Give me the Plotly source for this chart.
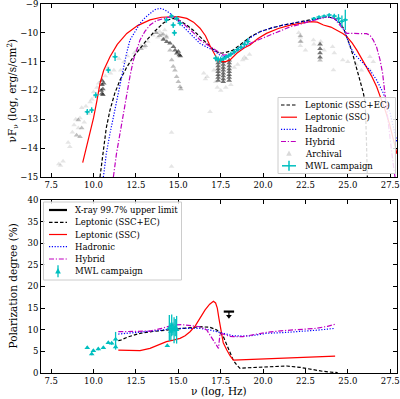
import plotly.graph_objects as go

# ---------------- data: SED (top panel) ----------------
ssc_ec_x = [10.38, 10.5, 10.58, 10.75, 10.97, 11.25, 11.56, 11.95, 12.35, 12.75,
            13.14, 13.6, 14.1, 14.4, 14.7, 15.1, 15.5, 15.9, 16.28, 16.7,
            17.1, 17.46, 17.8, 18.23, 18.8, 19.3, 19.82, 20.5, 21.2, 22.0,
            22.77, 23.3, 23.76, 24.2, 24.55, 24.75, 24.94, 25.13, 25.33, 25.52,
            25.72, 25.9, 26.0, 26.05, 26.1, 26.15]
ssc_ec_y = [-15.0, -14.5, -14.06, -13.3, -12.68, -12.1, -11.64, -11.2, -10.83, -10.52,
            -10.25, -9.95, -9.67, -9.55, -9.5, -9.58, -9.73, -9.92, -10.13, -10.38,
            -10.6, -10.71, -10.68, -10.6, -10.33, -10.12, -9.96, -9.83, -9.73, -9.63,
            -9.55, -9.5, -9.44, -9.5, -9.67, -9.85, -10.13, -10.45, -10.83, -11.22,
            -11.64, -12.05, -12.33, -12.8, -13.8, -15.0]

ssc_x = [9.36, 9.6, 9.79, 10.0, 10.2, 10.38, 10.6, 10.97, 11.4, 11.96,
         12.6, 13.33, 14.0, 14.5, 15.0, 15.5, 15.9, 16.28, 16.6, 16.87,
         17.1, 17.27, 17.45, 17.6, 17.8, 18.05, 18.45, 18.9, 19.23, 19.7,
         20.2, 20.9, 21.6, 22.2, 22.77, 23.2, 23.56, 24.0, 24.35, 24.7,
         24.94, 25.25, 25.53, 25.8, 26.1, 26.4, 26.7, 26.95, 27.2, 27.45,
         27.7, 27.9]
ssc_y = [-14.5, -13.95, -13.49, -12.95, -12.35, -11.75, -11.3, -10.83, -10.4, -10.02,
         -9.75, -9.55, -9.46, -9.44, -9.44, -9.5, -9.63, -9.84, -10.1, -10.45,
         -10.7, -10.88, -10.98, -11.0, -11.0, -10.94, -10.71, -10.52, -10.42, -10.2,
         -10.02, -9.85, -9.73, -9.66, -9.61, -9.63, -9.73, -9.8, -9.9, -10.02,
         -10.13, -10.35, -10.6, -10.88, -11.17, -11.5, -11.87, -12.25, -12.68, -13.15,
         -13.7, -14.2]

had_x = [10.58, 10.75, 10.97, 11.17, 11.37, 11.56, 11.76, 11.95, 12.15, 12.45,
         12.74, 13.03, 13.33, 13.6, 13.92, 14.2, 14.5, 14.8, 15.1, 15.4,
         15.69, 16.0, 16.28, 16.7, 17.07, 17.4, 17.66, 17.95, 18.23, 18.8,
         19.3, 19.82, 20.5, 21.2, 22.0, 22.77, 23.3, 23.76, 24.2, 24.55,
         24.85, 25.13, 25.4, 25.72, 26.0, 26.3, 26.7, 27.1, 27.5, 27.9]
had_y = [-15.0, -14.2, -13.49, -12.9, -12.33, -11.75, -11.17, -10.7, -10.25, -9.93,
         -9.67, -9.48, -9.32, -9.2, -9.15, -9.2, -9.32, -9.5, -9.67, -9.85,
         -10.02, -10.2, -10.37, -10.5, -10.6, -10.75, -10.83, -10.8, -10.71, -10.4,
         -10.15, -9.96, -9.83, -9.73, -9.64, -9.58, -9.5, -9.44, -9.5, -9.67,
         -10.0, -10.48, -10.75, -10.94, -11.1, -11.29, -11.64, -12.1, -12.8, -13.8]

hyb_x = [11.17, 11.35, 11.56, 11.76, 11.96, 12.15, 12.35, 12.55, 12.74, 13.03,
         13.33, 13.7, 14.1, 14.4, 14.7, 15.1, 15.5, 15.9, 16.28, 16.7,
         17.07, 17.4, 17.66, 17.95, 18.23, 18.7, 19.23, 19.7, 20.2, 20.9,
         21.6, 22.2, 22.77, 23.3, 23.76, 24.2, 24.55, 24.75, 24.94, 25.3,
         25.7, 26.1, 26.3, 26.5, 26.7, 26.9, 27.05, 27.2, 27.35, 27.5,
         27.6, 27.7, 27.78]
hyb_y = [-15.0, -14.2, -13.49, -12.8, -12.1, -11.5, -10.94, -10.55, -10.25, -9.95,
         -9.73, -9.58, -9.5, -9.46, -9.44, -9.58, -9.79, -10.0, -10.25, -10.4,
         -10.54, -10.68, -10.77, -10.76, -10.71, -10.55, -10.37, -10.25, -10.13, -9.95,
         -9.79, -9.7, -9.61, -9.52, -9.44, -9.5, -9.73, -9.9, -10.02, -10.02,
         -10.02, -10.03, -10.08, -10.25, -10.5, -10.94, -11.4, -12.1, -12.8, -13.7,
         -14.2, -14.65, -15.0]

# archival data (light, medium, dark groups)
arch_x = [7.95, 8.05, 8.2, 8.5, 8.6, 8.75, 8.85, 8.95, 9.1, 9.2,
          9.3, 9.45, 9.55, 9.7, 9.8, 9.9, 10.0, 10.1, 10.2, 10.3,
          10.7, 10.85, 11.0, 11.2, 11.5, 11.6, 11.8, 12.0, 12.4, 12.55,
          12.8, 13.0, 13.2, 13.5, 13.7, 13.8, 13.9, 14.0, 14.1, 14.2,
          14.3, 14.6, 14.6, 16.5, 16.6, 16.7, 16.87, 17.1, 17.2, 17.3,
          17.5, 17.8, 18.1, 18.3, 18.5, 18.8, 18.9, 19.0, 19.2, 22.1,
          22.2, 22.25, 22.2, 22.5, 22.97, 23.0, 23.4, 23.6, 24.1, 24.15,
          24.2, 24.7, 25.0, 25.5, 25.8, 26.3, 26.5, 26.3]
arch_y = [-14.55, -14.6, -14.45, -13.8, -13.95, -13.45, -13.2, -13.0, -13.3, -12.95,
          -12.6, -13.1, -12.55, -12.8, -12.4, -12.3, -12.05, -12.2, -11.9, -11.75,
          -11.5, -11.2, -11.4, -11.3, -10.9, -11.3, -11.0, -10.8, -10.7, -10.6,
          -10.45, -10.5, -10.3, -10.08, -10.0, -10.15, -9.95, -10.05, -10.2, -9.9,
          -10.1, -13.46, -14.64, -11.4, -11.6, -11.52, -12.74, -11.3, -11.7, -11.9,
          -12.0, -11.9, -11.8, -11.2, -11.1, -10.94, -10.85, -10.9, -10.75, -10.0,
          -10.15, -10.3, -10.45, -10.6, -10.25, -10.4, -10.3, -10.6, -10.48, -11.29,
          -10.7, -10.94, -11.0, -11.1, -11.3, -10.83, -11.0, -11.3]

arch_mid_x = [9.0, 9.1, 9.2, 9.3, 13.7, 13.9, 14.1, 14.3, 14.51, 14.61,
              14.7, 14.8, 14.9, 15.0, 15.1, 15.15, 12.8, 13.05, 22.2, 22.2, 23.36]
arch_mid_y = [-13.55, -13.02, -13.6, -13.3, -10.0, -10.1, -10.05, -10.15, -10.6, -10.94,
              -11.17, -11.3, -11.52, -11.7, -11.87, -11.95, -10.55, -10.45, -10.1, -10.3, -10.95]

arch_dark_x = [10.5, 10.5, 10.55, 10.5, 10.45, 10.6, 10.55,
               14.12, 14.32, 14.51, 14.71, 14.81, 15.0, 15.06, 14.91, 15.12,
               17.35, 17.35, 17.35, 17.35, 17.35, 17.35, 17.35, 17.35,
               17.65, 17.65, 17.65, 17.65, 17.65, 17.65, 17.65, 17.65,
               18.0, 18.0, 18.0, 18.0, 18.0, 18.0, 18.0, 18.0,
               23.36, 23.36, 23.36, 23.36]
arch_dark_y = [-11.65, -11.8, -11.95, -12.1, -12.0, -11.75, -12.15,
               -10.23, -10.31, -10.36, -10.48, -10.6, -10.65, -10.77, -10.71, -10.8,
               -10.95, -11.05, -11.15, -11.25, -11.35, -11.45, -11.55, -11.65,
               -11.0, -11.1, -11.2, -11.3, -11.4, -11.5, -11.6, -11.7,
               -10.95, -11.05, -11.15, -11.25, -11.35, -11.45, -11.55, -11.65,
               -10.4, -10.55, -10.7, -10.85]

mwl_x = [9.63, 9.89, 10.13, 10.87, 11.27, 14.3, 14.6, 14.7, 14.77, 14.9,
         15.1, 17.2, 17.35, 17.5, 17.65, 17.8, 17.95, 18.1, 18.3, 18.5,
         18.7, 18.9, 19.1, 23.0, 23.3, 23.6, 23.9, 24.2, 24.45, 24.65, 24.85]
mwl_y = [-12.74, -12.68, -12.16, -11.29, -10.83, -9.55, -9.42, -9.73, -10.0, -9.5,
         -9.67, -10.88, -10.92, -10.93, -10.9, -10.85, -10.8, -10.74, -10.66, -10.58,
         -10.5, -10.4, -10.3, -9.5, -9.45, -9.42, -9.38, -9.42, -9.5, -9.6, -9.55]
mwl_yerr = [0.1, 0.1, 0.1, 0.1, 0.15, 0.1, 0.08, 0.1, 0.1, 0.08,
            0.08, 0.1, 0.1, 0.1, 0.08, 0.08, 0.08, 0.08, 0.08, 0.08,
            0.08, 0.1, 0.12, 0.05, 0.05, 0.05, 0.06, 0.08, 0.15, 0.2, 0.35]

# ---------------- data: polarization (bottom panel) ----------------
pol_ssc_ec_x = [11.46, 11.6, 12.0, 12.74, 13.5, 14.3, 14.9, 15.6, 16.28, 16.87,
                17.1, 17.27, 17.46, 17.66, 17.86, 18.05, 18.25, 18.45, 18.64, 19.0,
                19.82, 20.6, 21.4, 22.18, 22.6, 22.97, 23.5, 24.15, 24.4]
pol_ssc_ec_y = [7.5, 7.6, 8.3, 9.17, 9.6, 9.94, 10.2, 10.45, 10.7, 10.56,
                10.3, 9.94, 9.3, 8.4, 6.5, 4.55, 2.9, 1.85, 1.08, 1.2,
                1.31, 1.5, 1.62, 1.31, 1.0, 0.69, 0.4, 0.15, 0.1]

pol_ssc_x = [11.46, 12.0, 12.74, 13.33, 13.8, 14.3, 14.7, 15.1, 15.4, 15.69,
             16.0, 16.28, 16.58, 16.85, 17.07, 17.2, 17.3, 17.4, 17.5, 17.65,
             17.86, 18.05, 18.25, 19.0, 20.2, 21.2, 22.18, 23.2, 24.25]
pol_ssc_y = [5.3, 5.2, 5.16, 5.7, 6.4, 7.24, 7.6, 8.0, 8.6, 9.55,
             10.9, 12.6, 14.6, 15.9, 16.6, 16.2, 15.0, 12.5, 9.9, 7.0,
             5.3, 4.0, 3.0, 3.1, 3.2, 3.35, 3.5, 3.7, 3.9]

pol_had_x = [11.46, 12.5, 13.33, 14.0, 14.7, 15.5, 16.28, 16.8, 17.27, 17.66,
             18.25, 18.8, 19.23, 19.8, 20.2, 21.2, 22.18, 23.2, 24.25]
pol_had_y = [9.0, 9.3, 9.55, 9.9, 10.3, 10.35, 10.3, 10.0, 9.55, 9.0,
             8.6, 8.55, 8.6, 8.9, 9.17, 9.35, 9.55, 9.9, 10.33]

pol_hyb_x = [11.46, 12.5, 13.33, 14.0, 14.7, 15.2, 15.7, 16.28, 16.68, 17.07,
             17.25, 17.37, 17.46, 17.66, 18.0, 18.25, 18.8, 19.5, 20.2, 21.2,
             22.18, 23.16, 23.8, 24.25]
pol_hyb_y = [9.55, 9.6, 9.7, 10.3, 11.1, 11.2, 11.0, 10.7, 9.94, 7.63,
             6.5, 5.7, 9.17, 9.0, 8.5, 8.4, 8.4, 8.9, 9.4, 9.8,
             10.1, 10.33, 10.8, 11.25]

ul_x = [17.68, 18.29]
ul_y = [14.2, 14.2]
ul_arrow_tip = 13.1

pol_mwl_x = [9.63, 9.89, 9.99, 10.28, 10.58, 10.87, 11.07, 11.3, 11.3, 14.35,
             14.47, 14.56, 14.61, 14.68, 14.75, 14.82, 14.9]
pol_mwl_y = [5.85, 4.4, 5.16, 5.55, 5.85, 7.0, 6.86, 7.8, 6.0, 6.3,
             10.4, 9.6, 11.0, 10.2, 9.9, 10.5, 10.0]
pol_mwl_err = [0.3, 0.3, 0.3, 0.3, 0.3, 0.3, 0.3, 1.7, 0.6, 0.3,
               3.0, 2.0, 2.5, 1.5, 3.0, 2.0, 3.2]

x_ticks = [7.5, 10.0, 12.5, 15.0, 17.5, 20.0, 22.5, 25.0, 27.5]

# ---------------- styling ----------------
FONT = "DejaVu Serif"
CYAN = "#00BFBF"
BLUE = "#0000FF"
RED = "#FF0000"
MAG = "#BF00BF"
DASH_BLACK = "3.5px,2px"
DOT_BLUE = "1.2px,1.6px"
DASHDOT_MAG = "5px,1.8px,1.2px,1.8px"

W, H = 400, 399
ML, MR, MT, MB = 41, 3, 4, 26
PW, PH = W - ML - MR, H - MT - MB


def P(px, py):
    return (px - ML) / PW, (H - MB - py) / PH


fig = go.Figure()


def line(x, y, color, dash, xa, ya, width=1.2):
    fig.add_trace(go.Scatter(x=x, y=y, mode="lines", xaxis=xa, yaxis=ya,
                             line=dict(color=color, dash=dash, width=width),
                             showlegend=False, hoverinfo="skip"))


# top panel
for ax_, ay_, op in [(arch_x, arch_y, 0.1), (arch_mid_x, arch_mid_y, 0.25), (arch_dark_x, arch_dark_y, 0.55)]:
    fig.add_trace(go.Scatter(x=ax_, y=ay_, mode="markers", xaxis="x", yaxis="y",
                             marker=dict(symbol="triangle-up", size=5, color="black", opacity=op,
                                         line=dict(width=0)),
                             showlegend=False, hoverinfo="skip"))

line(ssc_ec_x, ssc_ec_y, "black", DASH_BLACK, "x", "y")
line(ssc_x, ssc_y, RED, "solid", "x", "y")
line(had_x, had_y, BLUE, DOT_BLUE, "x", "y")
line(hyb_x, hyb_y, MAG, DASHDOT_MAG, "x", "y")

fig.add_trace(go.Scatter(x=mwl_x, y=mwl_y, mode="markers", xaxis="x", yaxis="y",
                         marker=dict(symbol="circle", size=3, color=CYAN),
                         error_y=dict(type="data", array=mwl_yerr, color=CYAN, thickness=1.3, width=0),
                         error_x=dict(type="constant", value=0.15, color=CYAN, thickness=1.3, width=0),
                         showlegend=False, hoverinfo="skip"))

# bottom panel
line(pol_ssc_ec_x, pol_ssc_ec_y, "black", DASH_BLACK, "x2", "y2")
line(pol_ssc_x, pol_ssc_y, RED, "solid", "x2", "y2")
line(pol_had_x, pol_had_y, BLUE, DOT_BLUE, "x2", "y2")
line(pol_hyb_x, pol_hyb_y, MAG, DASHDOT_MAG, "x2", "y2")

# upper limit
line(ul_x, ul_y, "black", "solid", "x2", "y2", width=2.2)
ul_mid = (ul_x[0] + ul_x[1]) / 2
line([ul_mid, ul_mid], [ul_y[0], ul_arrow_tip], "black", "solid", "x2", "y2", width=1.2)
fig.add_trace(go.Scatter(x=[ul_mid], y=[ul_arrow_tip], mode="markers", xaxis="x2", yaxis="y2",
                         marker=dict(symbol="triangle-down", size=5, color="black"),
                         showlegend=False, hoverinfo="skip"))

fig.add_trace(go.Scatter(x=pol_mwl_x, y=pol_mwl_y, mode="markers", xaxis="x2", yaxis="y2",
                         marker=dict(symbol="triangle-up", size=5, color=CYAN),
                         error_y=dict(type="data", array=pol_mwl_err, color=CYAN, thickness=1.3, width=0),
                         showlegend=False, hoverinfo="skip"))

# ---------------- axes ----------------
tickfont = dict(family=FONT, size=8.5, color="black")
common_x = dict(range=[6.9, 27.9], tickvals=x_ticks, tickformat=".1f", ticks="inside", ticklen=4,
                tickcolor="black", showline=True, linecolor="black", linewidth=1, mirror="ticks",
                showgrid=False, zeroline=False, tickfont=tickfont, automargin=False,
                ticklabeloverflow="allow")
common_y = dict(ticks="inside", ticklen=4, tickcolor="black", showline=True, linecolor="black",
                linewidth=1, mirror="ticks", showgrid=False, zeroline=False, tickfont=tickfont,
                automargin=False, ticklabeloverflow="allow")

top_bottom = P(0, 177)[1]
bot_top = P(0, 200)[1]

fig.update_layout(
    template="none",
    width=W, height=H,
    margin=dict(l=ML, r=MR, t=MT, b=MB, autoexpand=False),
    plot_bgcolor="white", paper_bgcolor="white",
    showlegend=False,
    xaxis=dict(common_x, domain=[0, 1], anchor="y"),
    yaxis=dict(common_y, domain=[top_bottom, 1], range=[-15, -9], dtick=1, anchor="x"),
    xaxis2=dict(common_x, domain=[0, 1], anchor="y2"),
    yaxis2=dict(common_y, domain=[0, bot_top], range=[0, 40], dtick=5, anchor="x2"),
)

shapes = []
annotations = []

# axis titles
lab_font = dict(family=FONT, size=10.5, color="black")
x0, y0 = P(12, 90.5)
annotations.append(dict(text="νF<sub>ν</sub> (log, erg/s/cm<sup>2</sup>)", x=x0, y=y0, xref="paper",
                        yref="paper", textangle=-90, showarrow=False, font=lab_font,
                        xanchor="center", yanchor="middle"))
x0, y0 = P(12, 286.5)
annotations.append(dict(text="Polarization degree (%)", x=x0, y=y0, xref="paper", yref="paper",
                        textangle=-90, showarrow=False, font=lab_font, xanchor="center", yanchor="middle"))
x0, y0 = P(219, 391)
annotations.append(dict(text="ν (log, Hz)", x=x0, y=y0, xref="paper", yref="paper",
                        showarrow=False, font=lab_font, xanchor="center", yanchor="middle"))

leg_font = dict(family=FONT, size=8.5, color="black")


def box(px0, py0, px1, py1):
    a, b = P(px0, py1)
    c, d = P(px1, py0)
    shapes.append(dict(type="rect", xref="paper", yref="paper", x0=a, y0=b, x1=c, y1=d,
                       line=dict(color="#cccccc", width=1), fillcolor="rgba(255,255,255,0.85)",
                       layer="above"))


def seg(px0, py0, px1, py1, color, dash="solid", width=1.2):
    a, b = P(px0, py0)
    c, d = P(px1, py1)
    shapes.append(dict(type="line", xref="paper", yref="paper", x0=a, y0=b, x1=c, y1=d,
                       line=dict(color=color, dash=dash, width=width), layer="above"))


def tri(px, py, color, s=2.8, opacity=1.0):
    pts = [P(px - s, py + s * 0.8), P(px + s, py + s * 0.8), P(px, py - s * 1.1)]
    path = "M {} {} L {} {} L {} {} Z".format(pts[0][0], pts[0][1], pts[1][0], pts[1][1],
                                              pts[2][0], pts[2][1])
    shapes.append(dict(type="path", xref="paper", yref="paper", path=path, fillcolor=color,
                       line=dict(width=0), opacity=opacity, layer="above"))


def text(px, py, s):
    a, b = P(px, py)
    annotations.append(dict(text=s, x=a, y=b, xref="paper", yref="paper", showarrow=False,
                            font=leg_font, xanchor="left", yanchor="middle"))


# top legend
box(278, 97.5, 395.5, 173.5)
rows = [105, 117.2, 129.3, 141.5, 153.6, 165.8]
seg(281, rows[0], 297, rows[0], "black", DASH_BLACK)
text(303, rows[0], "Leptonic (SSC+EC)")
seg(281, rows[1], 297, rows[1], RED)
text(303, rows[1], "Leptonic (SSC)")
seg(281, rows[2], 297, rows[2], BLUE, DOT_BLUE)
text(303, rows[2], "Hadronic")
seg(281, rows[3], 297, rows[3], MAG, DASHDOT_MAG)
text(303, rows[3], "Hybrid")
tri(289, rows[4], "black", opacity=0.15)
text(303, rows[4], "Archival")
seg(282, rows[5], 296, rows[5], CYAN, width=1.5)
seg(289, rows[5] - 5, 289, rows[5] + 5, CYAN, width=1.5)
text(303, rows[5], "MWL campaign")

# bottom legend
box(43.5, 202, 181.5, 280)
rows2 = [210, 222.3, 234.5, 246.7, 259, 271.2]
seg(49, rows2[0], 67, rows2[0], "black", width=2.2)
text(72.5, rows2[0], "X-ray 99.7% upper limit")
seg(49, rows2[1], 67, rows2[1], "black", DASH_BLACK)
text(72.5, rows2[1], "Leptonic (SSC+EC)")
seg(49, rows2[2], 67, rows2[2], RED)
text(72.5, rows2[2], "Leptonic (SSC)")
seg(49, rows2[3], 67, rows2[3], BLUE, DOT_BLUE)
text(72.5, rows2[3], "Hadronic")
seg(49, rows2[4], 67, rows2[4], MAG, DASHDOT_MAG)
text(72.5, rows2[4], "Hybrid")
seg(58, rows2[5] - 6, 58, rows2[5] + 6, CYAN, width=1.3)
tri(58, rows2[5], CYAN)
text(72.5, rows2[5], "MWL campaign")

fig.update_layout(shapes=shapes, annotations=annotations)

fig.write_html("out.html", config={"displayModeBar": False},
               post_script="document.body.style.margin='0px';document.body.style.padding='0px';")
